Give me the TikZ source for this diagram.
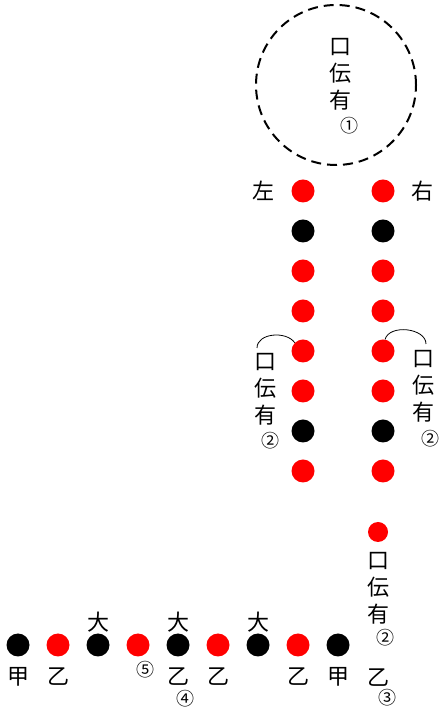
\documentclass[tikz,border=0pt]{standalone}
\usepackage{fontspec}
\newfontfamily\cjk{Noto Sans CJK JP}

\begin{document}
\begin{tikzpicture}[x=1pt, y=1pt,
	reddot/.style={circle, fill=red, minimum size=23pt, inner sep=0pt},
	blackdot/.style={circle, fill=black, minimum size=23pt, inner sep=0pt},
	word/.style={font=\cjk\fontsize{22}{27}\selectfont, align=center, inner sep=0pt},
	num/.style={font=\cjk\fontsize{18}{18}\selectfont, inner sep=0pt}]
		
		\useasboundingbox (0,0) rectangle (443,711);
		
		\node[circle, draw, line width=2pt, dash pattern=on 10pt off 6pt, minimum size=160pt] (c) at (336,626) {};
		
		\node[word] (k1) at (340,637) {口\\伝\\有};
		
		\node[num] (n1) at (349,585) {①};
		
		\node[word] (left) at (263,520) {左};
		
		\node[word] (right) at (422,520) {右};
		
		\node[reddot] (l1) at (303,520) {};
		\node[blackdot] (l2) at (303,480) {};
		\node[reddot] (l3) at (303,440) {};
		\node[reddot] (l4) at (303,400) {};
		\node[reddot] (l5) at (303,360) {};
		\node[reddot] (l6) at (303,320) {};
		\node[blackdot] (l7) at (303,280) {};
		\node[reddot] (l8) at (303,240) {};
		
		\node[reddot] (r1) at (383,520) {};
		\node[blackdot] (r2) at (383,480) {};
		\node[reddot] (r3) at (383,440) {};
		\node[reddot] (r4) at (383,400) {};
		\node[reddot] (r5) at (383,360) {};
		\node[reddot] (r6) at (383,320) {};
		\node[blackdot] (r7) at (383,280) {};
		\node[reddot] (r8) at (383,240) {};
		
		\node[word] (k2) at (265,322) {口\\伝\\有};
		\node[num] (n2) at (270,270) {②};
		
		\node[word] (k3) at (423,325) {口\\伝\\有};
		\node[num] (n3) at (430,272) {②};
		
		\coordinate (al) at (257,363);
		\coordinate (ar) at (426,367);
		
		\draw[thick] (al) to[out=90, in=125] (l5.135)
		(r5.80) to[out=75, in=90] (ar);
		
		\node[reddot, minimum size=20pt] (d) at (378,179) {};
		\node[word] (k4) at (378,123) {口\\伝\\有};
		\node[num] (n4) at (385,73) {②};
		
		\node[word] (o5) at (378,33) {乙};
		\node[num] (n5) at (387,13) {③};
		
		\node[blackdot] (b1) at (18,66) {};
		\node[reddot] (b2) at (58,66) {};
		\node[blackdot] (b3) at (98,66) {};
		\node[reddot] (b4) at (138,66) {};
		\node[blackdot] (b5) at (178,66) {};
		\node[reddot] (b6) at (218,66) {};
		\node[blackdot] (b7) at (258,66) {};
		\node[reddot] (b8) at (298,66) {};
		\node[blackdot] (b9) at (338,66) {};
		
		\node[word] (k6) at (18,34) {甲};
		\node[word] (o1) at (58,34) {乙};
		\node[num] (n6) at (145,41) {⑤};
		\node[word] (o2) at (178,34) {乙};
		\node[num] (n7) at (185,12) {④};
		\node[word] (o3) at (218,34) {乙};
		\node[word] (o4) at (298,34) {乙};
		\node[word] (k7) at (338,34) {甲};
		
		\node[word] (g1) at (98,89) {大};
		\node[word] (g2) at (178,89) {大};
		\node[word] (g3) at (258,89) {大};
		
	\end{tikzpicture}
\end{document}
